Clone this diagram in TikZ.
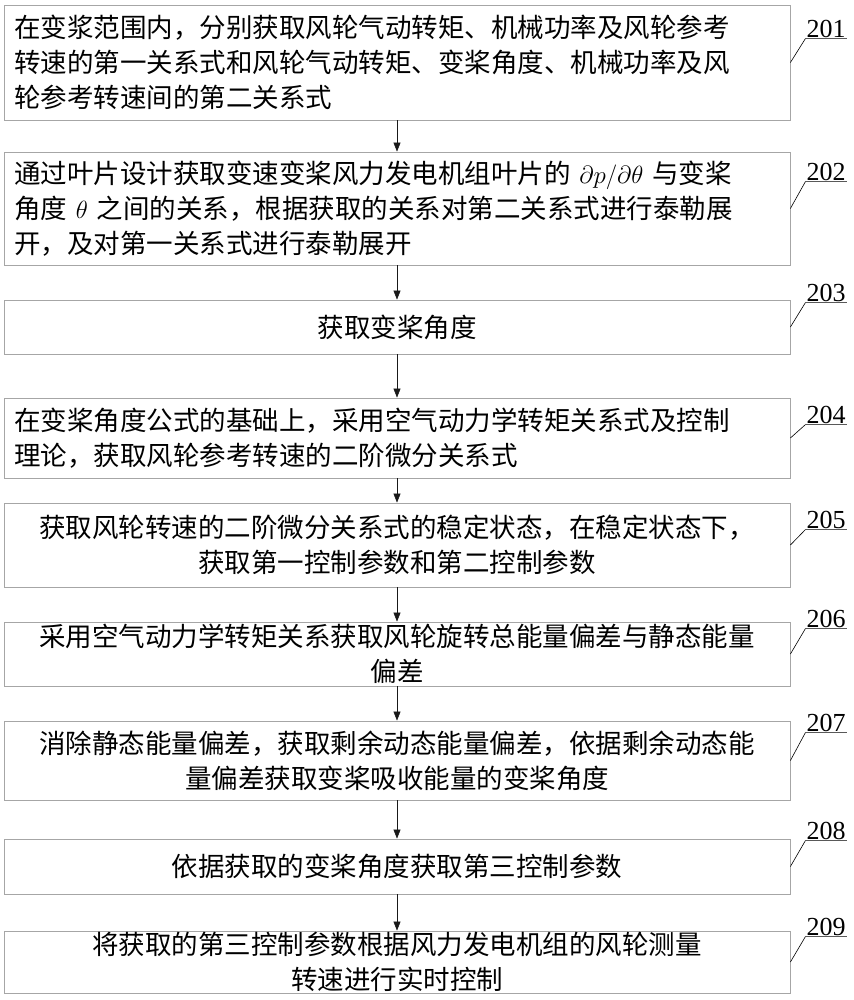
\documentclass[tikz,border=0pt]{standalone}
\usepackage{fontspec}
\setmainfont{Noto Sans CJK SC}
\newfontfamily\numfont{Liberation Serif}
\usepackage{amsmath}
\usetikzlibrary{arrows.meta}
\begin{document}
\begin{tikzpicture}[x=1pt,y=-1pt,
	stepbox/.style={draw=gray!70,line width=0.8pt,minimum width=786pt,text width=766pt,inner sep=0pt,font=\fontsize{26.5}{35}\selectfont},
	numlabel/.style={font=\numfont\fontsize{26}{26}\selectfont,inner sep=1pt},
	flow/.style={-{Triangle[length=9pt,width=7pt]},gray!20!black,line width=0.6pt}]
	\useasboundingbox (0,0) rectangle (853,1000);
	\node[stepbox,align=left,minimum height=115pt] (s1) at (397,62.5) {在变浆范围内，分别获取风轮气动转矩、机械功率及风轮参考\\转速的第一关系式和风轮气动转矩、变桨角度、机械功率及风\\轮参考转速间的第二关系式};
	\node[stepbox,align=left,minimum height=113pt] (s2) at (397,208.5) {通过叶片设计获取变速变桨风力发电机组叶片的 $\partial p/\partial\theta$ 与变桨\\角度 $\theta$ 之间的关系，根据获取的关系对第二关系式进行泰勒展\\开，及对第一关系式进行泰勒展开};
	\node[stepbox,align=center,minimum height=54pt] (s3) at (397,327) {获取变桨角度};
	\node[stepbox,align=left,minimum height=80pt] (s4) at (397,438) {在变桨角度公式的基础上，采用空气动力学转矩关系式及控制\\理论，获取风轮参考转速的二阶微分关系式};
	\node[stepbox,align=center,minimum height=84pt] (s5) at (397,545) {获取风轮转速的二阶微分关系式的稳定状态，在稳定状态下，\\获取第一控制参数和第二控制参数};
	\node[stepbox,align=center,minimum height=64pt] (s6) at (397,654) {采用空气动力学转矩关系获取风轮旋转总能量偏差与静态能量\\偏差};
	\node[stepbox,align=center,minimum height=79pt] (s7) at (397,760.5) {消除静态能量偏差，获取剩余动态能量偏差，依据剩余动态能\\量偏差获取变桨吸收能量的变桨角度};
	\node[stepbox,align=center,minimum height=55pt] (s8) at (397,866.5) {依据获取的变桨角度获取第三控制参数};
	\node[stepbox,align=center,minimum height=62pt] (s9) at (397,962) {将获取的第三控制参数根据风力发电机组的风轮测量\\转速进行实时控制};
	% step numbers with leader lines
	\foreach \i/\d in {1/34,2/30,3/3,4/27,5/27,6/7,7/12,8/2,9/6}{
		\node[numlabel,anchor=south west] (n\i) at ([xshift=15pt,yshift=-\d pt]s\i.north east) {20\i};
		\draw[line width=0.6pt] (s\i.east) -- (n\i.south west) -- (n\i.south east);
	}
	\foreach \a/\b in {s1/s2,s2/s3,s3/s4,s4/s5,s5/s6,s6/s7,s7/s8,s8/s9}
	\draw[flow] (\a) -- (\b);
\end{tikzpicture}
\end{document}
